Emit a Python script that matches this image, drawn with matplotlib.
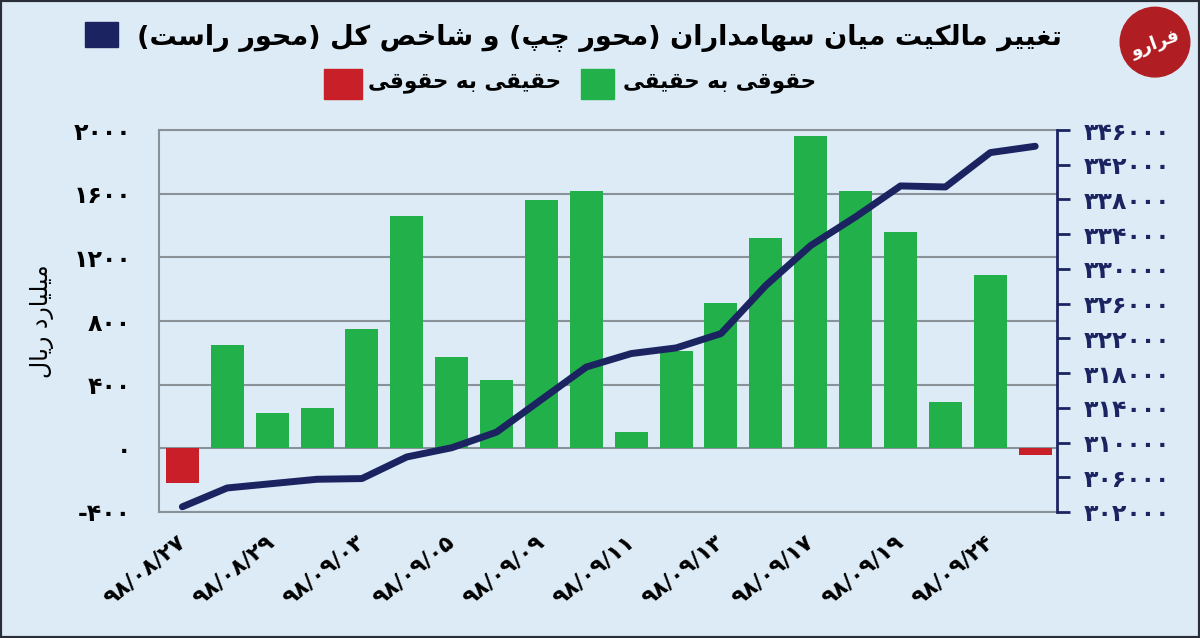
import matplotlib
matplotlib.use("Agg")
import matplotlib.pyplot as plt
from matplotlib.patches import Rectangle, Ellipse
from matplotlib.ticker import FuncFormatter

# net ownership change between shareholders, billion rial (left axis)
flow = [-220, 648, 224, 255, 750, 1457, 572, 428, 1562, 1614,
        105, 614, 916, 1323, 1964, 1618, 1360, 293, 1088, -42]
# total index (right axis)
index = [302600, 304770, 305270, 305770, 305850, 308340, 309400, 311200, 314950, 318700,
         320250, 320900, 322550, 328100, 332700, 336000, 339560, 339440, 343400, 344130]
# every second day is labelled
date_labels = ["۹۸/۰۸/۲۷", "۹۸/۰۸/۲۹", "۹۸/۰۹/۰۳", "۹۸/۰۹/۰۵", "۹۸/۰۹/۰۹",
               "۹۸/۰۹/۱۱", "۹۸/۰۹/۱۳", "۹۸/۰۹/۱۷", "۹۸/۰۹/۱۹", "۹۸/۰۹/۲۴"]
left_ticks = [-400, 0, 400, 800, 1200, 1600, 2000]
right_ticks = list(range(302000, 346001, 4000))

title = "تغییر مالکیت میان سهامداران (محور چپ) و شاخص کل (محور راست)"
lbl_pos = "حقوقی به حقیقی"
lbl_neg = "حقیقی به حقوقی"
ylabel = "میلیارد ریال"
logo = "فرارو"

BG = "#dcebf6"
GREEN = "#22b04b"
RED = "#c81f28"
NAVY = "#1b2461"
GRID = "#8a9299"

# minimal arabic/persian shaping: presentation forms + right-to-left order
FORMS = {
    "ا": (0xFE8D, 0xFE8E), "د": (0xFEA9, 0xFEAA), "ر": (0xFEAD, 0xFEAE),
    "و": (0xFEED, 0xFEEE),
    "ب": (0xFE8F, 0xFE90, 0xFE91, 0xFE92), "پ": (0xFB56, 0xFB57, 0xFB58, 0xFB59),
    "ت": (0xFE95, 0xFE96, 0xFE97, 0xFE98), "چ": (0xFB7A, 0xFB7B, 0xFB7C, 0xFB7D),
    "ح": (0xFEA1, 0xFEA2, 0xFEA3, 0xFEA4), "خ": (0xFEA5, 0xFEA6, 0xFEA7, 0xFEA8),
    "س": (0xFEB1, 0xFEB2, 0xFEB3, 0xFEB4), "ش": (0xFEB5, 0xFEB6, 0xFEB7, 0xFEB8),
    "ص": (0xFEB9, 0xFEBA, 0xFEBB, 0xFEBC), "غ": (0xFECD, 0xFECE, 0xFECF, 0xFED0),
    "ف": (0xFED1, 0xFED2, 0xFED3, 0xFED4), "ق": (0xFED5, 0xFED6, 0xFED7, 0xFED8),
    "ک": (0xFB8E, 0xFB8F, 0xFB90, 0xFB91), "ل": (0xFEDD, 0xFEDE, 0xFEDF, 0xFEE0),
    "م": (0xFEE1, 0xFEE2, 0xFEE3, 0xFEE4), "ن": (0xFEE5, 0xFEE6, 0xFEE7, 0xFEE8),
    "ه": (0xFEE9, 0xFEEA, 0xFEEB, 0xFEEC), "ی": (0xFBFC, 0xFBFD, 0xFBFE, 0xFBFF),
}


def fa(text):
    out = []
    for i, c in enumerate(text):
        f = FORMS.get(c)
        if f is None:
            out.append(c)
            continue
        prev = text[i - 1] if i > 0 else ""
        nxt = text[i + 1] if i + 1 < len(text) else ""
        jp = prev in FORMS and len(FORMS[prev]) == 4
        jn = len(f) == 4 and nxt in FORMS
        if jp and jn:
            g = f[3]
        elif jp:
            g = f[1]
        elif jn:
            g = f[2]
        else:
            g = f[0]
        out.append(chr(g))
    return "".join(out)[::-1].translate(str.maketrans("()", ")("))


def fa_num(v):
    s = str(int(abs(v))).translate(str.maketrans("0123456789", "۰۱۲۳۴۵۶۷۸۹"))
    return "-" + s if v < 0 else s


plt.rcParams["font.family"] = ["DejaVu Sans"]

fig = plt.figure(figsize=(12, 6.38), dpi=100, facecolor=BG)
ax = fig.add_axes([0.1325, 0.1975, 0.7485, 0.5987])
ax.set_facecolor(BG)

x = range(len(flow))
colors = [GREEN if v >= 0 else RED for v in flow]
ax.bar(x, flow, width=0.735, color=colors, zorder=2)
ax.set_xlim(-0.52, 19.49)
ax.set_ylim(-400, 2000)
ax.set_yticks(left_ticks)
ax.yaxis.set_major_formatter(FuncFormatter(lambda v, p: fa_num(v)))
ax.yaxis.grid(True, color=GRID, lw=1.5, zorder=0)
ax.set_axisbelow(True)
ax.tick_params(axis="y", length=0, pad=20, labelsize=17)
for t in ax.get_yticklabels():
    t.set_fontweight("bold")
ax.set_xticks(range(0, len(flow), 2))
ax.set_xticklabels(date_labels, rotation=39, ha="right", va="center",
                   rotation_mode="anchor", fontsize=16, fontweight="bold")
ax.tick_params(axis="x", length=0, pad=20)
for s in ("left", "top", "bottom"):
    ax.spines[s].set_color(GRID)
    ax.spines[s].set_linewidth(1.5)
ax.spines["right"].set_visible(False)
ax.set_ylabel(fa(ylabel), fontsize=17, labelpad=14)

ax2 = ax.twinx()
ax2.plot(x, index, color=NAVY, lw=5, solid_capstyle="round", zorder=3)
ax2.set_ylim(302000, 346000)
ax2.set_yticks(right_ticks)
ax2.yaxis.set_major_formatter(FuncFormatter(lambda v, p: fa_num(v)))
ax2.tick_params(axis="y", direction="out", length=9, width=2, color=NAVY,
                labelcolor=NAVY, labelsize=17, pad=10)
for t in ax2.get_yticklabels():
    t.set_fontweight("bold")
for s in ("left", "top", "bottom"):
    ax2.spines[s].set_visible(False)
ax2.spines["right"].set_color(NAVY)
ax2.spines["right"].set_linewidth(2)

# title / legend rows
fig.text(0.885, 0.940, fa(title), ha="right", va="center", fontsize=19.5, fontweight="bold")
fig.add_artist(Rectangle((0.071, 0.926), 0.027, 0.039, transform=fig.transFigure,
                         color=NAVY))
fig.text(0.680, 0.870, fa(lbl_pos), ha="right", va="center", fontsize=15.5, fontweight="bold")
fig.add_artist(Rectangle((0.484, 0.845), 0.028, 0.047, transform=fig.transFigure,
                         color=GREEN))
fig.text(0.4675, 0.870, fa(lbl_neg), ha="right", va="center", fontsize=15.5, fontweight="bold")
fig.add_artist(Rectangle((0.270, 0.845), 0.032, 0.047, transform=fig.transFigure,
                         color=RED))

# logo
fig.add_artist(Ellipse((0.9625, 0.934), 0.058, 0.058 * 1200 / 638,
                       transform=fig.transFigure, color="#b01e23"))
fig.text(0.9625, 0.932, fa(logo), ha="center", va="center", fontsize=13,
         fontweight="bold", color="white", rotation=20)

fig.add_artist(Rectangle((0, 0), 1, 1, transform=fig.transFigure, fill=False,
                         edgecolor="#2a2e38", lw=3))

fig.savefig("out.png", dpi=100, facecolor=BG)
